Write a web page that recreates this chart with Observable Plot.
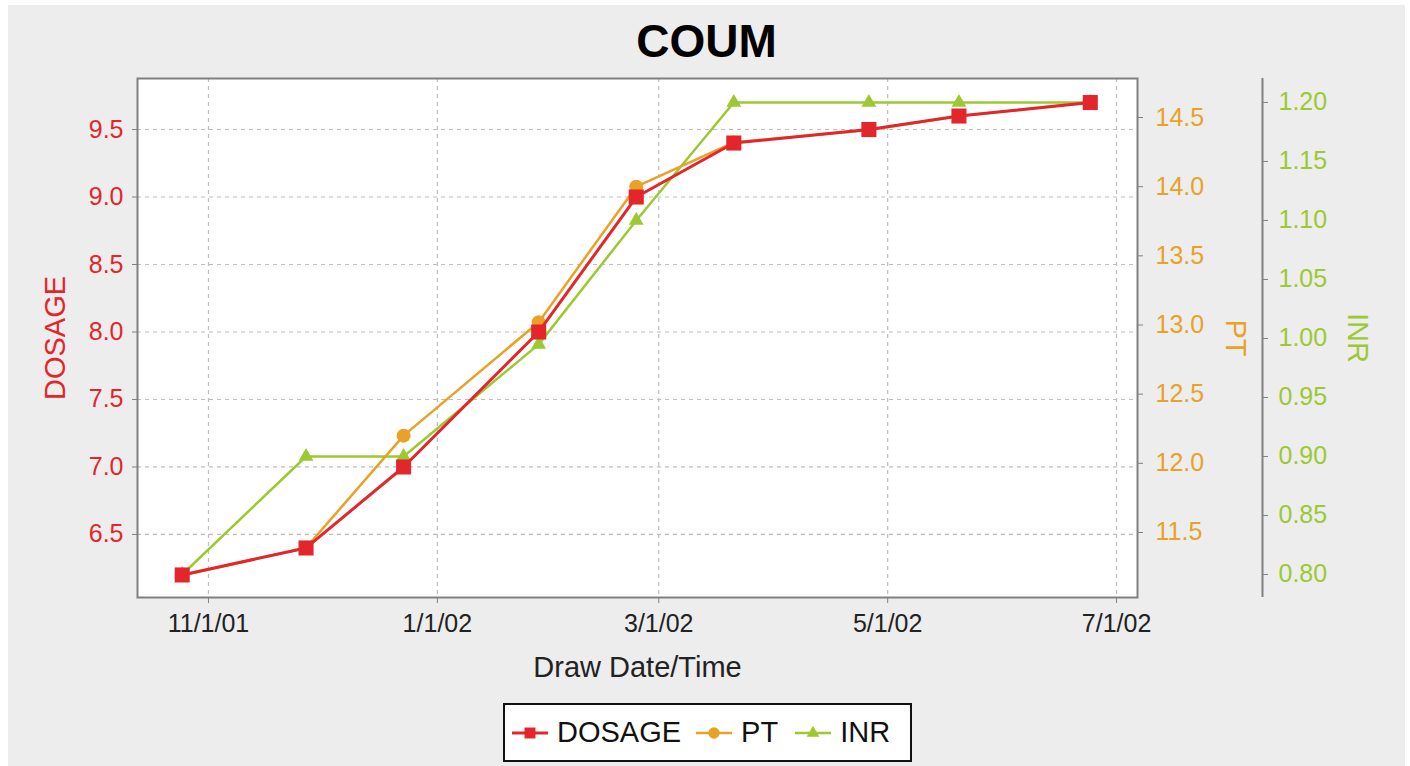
<!DOCTYPE html>
<html><head><meta charset="utf-8">
<script src="https://cdn.jsdelivr.net/npm/d3@7"></script>
<script src="https://cdn.jsdelivr.net/npm/@observablehq/plot@0.6"></script>
<style>
body{margin:0;background:#fff;font-family:"Liberation Sans",Arial,sans-serif;}
#wrap{position:absolute;left:8px;top:5px;width:1397px;height:761px;background:#ededed;overflow:hidden;}
#title{height:68px;line-height:72px;text-align:center;font-weight:bold;font-size:46px;color:#000;}
#plots{position:relative;height:620px;}
#plots svg{position:absolute;left:0;top:0;}
#legend{position:absolute;left:495px;top:698px;width:405px;height:55px;border:2px solid #111;background:#fff;display:flex;align-items:center;font-size:29px;color:#111;}
#legend svg{display:block;}
</style></head>
<body>
<div id="wrap">
  <div id="title">COUM</div>
  <div id="plots"></div>
  <div id="legend"></div>
</div>
<script>
// ---- data ----
const drawDates = ["2001-10-25","2001-11-27","2001-12-23","2002-01-28","2002-02-23","2002-03-21","2002-04-26","2002-05-20","2002-06-24"];
const dosageValues = [6.2, 6.4, 7.0, 8.0, 9.0, 9.4, 9.5, 9.6, 9.7];
const ptValues = [11.19, 11.39, 12.2, 13.02, 14.0, 14.32, 14.41, 14.51, 14.61];
const inrValues = [0.80, 0.90, 0.90, 0.995, 1.10, 1.20, 1.20, 1.20, 1.20];
const xTickDates = ["2001-11-01","2002-01-01","2002-03-01","2002-05-01","2002-07-01"];
const dosageTicks = [6.5, 7.0, 7.5, 8.0, 8.5, 9.0, 9.5];
const ptTicks = [11.5, 12.0, 12.5, 13.0, 13.5, 14.0, 14.5];
const inrTicks = [0.80, 0.85, 0.90, 0.95, 1.00, 1.05, 1.10, 1.15, 1.20];

const RED = "#e3262b", ORANGE = "#e9a127", GREEN = "#9cc932";
const parse = s => new Date(s + "T00:00:00Z");
const rows = drawDates.map((d, i) => ({date: parse(d), dosage: dosageValues[i], pt: ptValues[i], inr: inrValues[i]}));
const xTicks = xTickDates.map(parse);
const xDomain = [new Date(Date.UTC(2001, 9, 13, 2)), new Date(Date.UTC(2002, 6, 6, 14))];
const dosageDomain = [6.033, 9.878];
const ptDomain = [11.03, 14.782];
const inrDomain = [0.7805, 1.2203];
const fmtDate = d => `${d.getUTCMonth() + 1}/${d.getUTCDate()}/${String(d.getUTCFullYear()).slice(2)}`;

const common = {
  width: 1397, height: 620,
  marginTop: 5, marginBottom: 96, marginLeft: 129, marginRight: 268,
  style: {background: "transparent", fontFamily: "'Liberation Sans', Arial, sans-serif", fontSize: "25px", overflow: "visible"}
};
const gridStyle = {stroke: "#bdbdbd", strokeOpacity: 1, strokeDasharray: "4,4", strokeWidth: 1.2};

const base = Plot.plot({
  ...common,
  x: {type: "utc", domain: xDomain},
  y: {domain: dosageDomain},
  marks: [
    Plot.frame({fill: "white", stroke: null}),
    Plot.gridX(xTicks, gridStyle),
    Plot.gridY(dosageTicks, gridStyle),
    Plot.frame({stroke: "#808080", strokeWidth: 2}),
    Plot.axisX(xTicks, {tickFormat: fmtDate, tickSize: 6, tickPadding: 11, stroke: "#808080", fill: "#222", label: null, fontSize: 25}),
    Plot.axisY(dosageTicks, {anchor: "left", tickFormat: d3.format(".1f"), tickSize: 5, tickPadding: 9, stroke: "#808080", fill: RED, label: null, fontSize: 25}),
    Plot.text(["Draw Date/Time"], {frameAnchor: "bottom", dy: 70, textAnchor: "middle", lineAnchor: "middle", fontSize: 29, fill: "#222"}),
    Plot.text(["DOSAGE"], {frameAnchor: "left", dx: -82, rotate: -90, textAnchor: "middle", lineAnchor: "middle", fontSize: 29, fill: RED})
  ]
});

const inrPlot = Plot.plot({
  ...common,
  x: {type: "utc", domain: xDomain, axis: null},
  y: {domain: inrDomain, axis: null},
  marks: [
    Plot.line(rows, {x: "date", y: "inr", stroke: GREEN, strokeWidth: 2.5}),
    Plot.dot(rows, {x: "date", y: "inr", symbol: "triangle", r: 5.5, fill: GREEN, stroke: null}),
    Plot.ruleX([xDomain[1]], {dx: 125, stroke: "#808080", strokeWidth: 2}),
    Plot.axisY(inrTicks, {anchor: "right", dx: 125, tickFormat: d3.format(".2f"), tickSize: 5, tickPadding: 11, stroke: "#808080", fill: GREEN, label: null, fontSize: 25}),
    Plot.text(["INR"], {frameAnchor: "right", dx: 220, rotate: 90, textAnchor: "middle", lineAnchor: "middle", fontSize: 29, fill: GREEN})
  ]
});

const ptPlot = Plot.plot({
  ...common,
  x: {type: "utc", domain: xDomain, axis: null},
  y: {domain: ptDomain, axis: null},
  marks: [
    Plot.line(rows, {x: "date", y: "pt", stroke: ORANGE, strokeWidth: 2.5}),
    Plot.dot(rows, {x: "date", y: "pt", symbol: "circle", r: 7, fill: ORANGE, stroke: null}),
    Plot.axisY(ptTicks, {anchor: "right", tickFormat: d3.format(".1f"), tickSize: 5, tickPadding: 13, stroke: "#808080", fill: ORANGE, label: null, fontSize: 25}),
    Plot.text(["PT"], {frameAnchor: "right", dx: 98, rotate: 90, textAnchor: "middle", lineAnchor: "middle", fontSize: 29, fill: ORANGE})
  ]
});

const dosagePlot = Plot.plot({
  ...common,
  x: {type: "utc", domain: xDomain, axis: null},
  y: {domain: dosageDomain, axis: null},
  marks: [
    Plot.line(rows, {x: "date", y: "dosage", stroke: RED, strokeWidth: 3}),
    Plot.dot(rows, {x: "date", y: "dosage", symbol: "square", r: 8.5, fill: RED, stroke: null})
  ]
});

const holder = document.getElementById("plots");
[base, inrPlot, ptPlot, dosagePlot].forEach(p => holder.appendChild(p));

// ---- legend ----
const legendItems = [
  {label: "DOSAGE", color: RED, shape: "square"},
  {label: "PT", color: ORANGE, shape: "circle"},
  {label: "INR", color: GREEN, shape: "triangle"}
];
const legend = document.getElementById("legend");
legendItems.forEach((it, i) => {
  const ns = "http://www.w3.org/2000/svg";
  const svg = document.createElementNS(ns, "svg");
  svg.setAttribute("width", 38); svg.setAttribute("height", 20);
  svg.style.marginLeft = i === 0 ? "6px" : (i === 1 ? "14px" : "16px");
  const line = document.createElementNS(ns, "line");
  line.setAttribute("x1", 1); line.setAttribute("x2", 37); line.setAttribute("y1", 10); line.setAttribute("y2", 10);
  line.setAttribute("stroke", it.color); line.setAttribute("stroke-width", i === 0 ? 3 : 2.5);
  svg.appendChild(line);
  const path = document.createElementNS(ns, "path");
  const size = it.shape === "square" ? 120 : (it.shape === "circle" ? 100 : 70);
  const sym = it.shape === "square" ? d3.symbolSquare : (it.shape === "circle" ? d3.symbolCircle : d3.symbolTriangle);
  path.setAttribute("d", d3.symbol(sym, size)());
  path.setAttribute("transform", "translate(19,10)");
  path.setAttribute("fill", it.color);
  svg.appendChild(path);
  legend.appendChild(svg);
  const span = document.createElement("span");
  span.textContent = it.label;
  span.style.marginLeft = "8px";
  legend.appendChild(span);
});
</script>
</body></html>
